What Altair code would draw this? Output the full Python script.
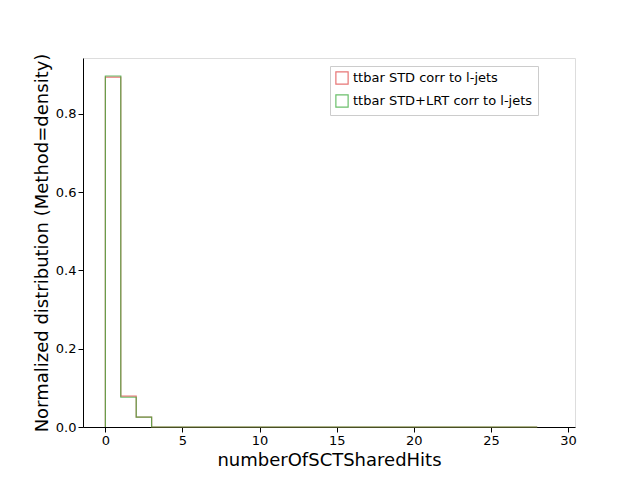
import altair as alt
import pandas as pd

bins = list(range(30))
std = [0.894, 0.079, 0.025] + [0.0] * 26
lrt = [0.897, 0.076, 0.025] + [0.0] * 26
names = ["ttbar STD corr to l-jets", "ttbar STD+LRT corr to l-jets"]

rows = []
for name, vals in zip(names, [std, lrt]):
    xs = [0] + bins[:-1] + [29]
    ys = [0.0] + vals[:-1] + [0.0]
    for i, (x, y) in enumerate(zip(xs, ys)):
        rows.append({"x": x, "y": y, "series": name, "o": i})
df = pd.DataFrame(rows)

ax = dict(grid=False, titleFontSize=18, titleFontWeight="normal", labelFontSize=13, tickColor="black",
          domainColor="black", labelColor="black", titleColor="black", labelFlush=False)

chart = alt.Chart(df).mark_line(interpolate="step-after", strokeWidth=1.2, opacity=0.75).encode(
    x=alt.X("x:Q", scale=alt.Scale(domain=[-1.45, 30.45], nice=False, zero=False),
            axis=alt.Axis(values=[0, 5, 10, 15, 20, 25, 30], title="numberOfSCTSharedHits", **ax)),
    y=alt.Y("y:Q", scale=alt.Scale(domain=[0, 0.943], nice=False),
            axis=alt.Axis(values=[0, 0.2, 0.4, 0.6, 0.8], format=".1f",
                          title="Normalized distribution (Method=density)", **ax)),
    color=alt.Color("series:N", scale=alt.Scale(domain=names, range=["#e04848", "#3aaa3a"]),
                    legend=alt.Legend(title=None, orient="none", legendX=247, legendY=8,
                                      symbolType="square", symbolFillColor="white", symbolSize=150,
                                      symbolStrokeWidth=1.2, labelFontSize=13, labelColor="black",
                                      labelLimit=0, fillColor="white", strokeColor="#cccccc",
                                      padding=5, rowPadding=5)),
    order="o:Q",
).properties(width=492, height=369, autosize=alt.AutoSizeParams(type="none"),
             padding={"left": 75, "top": 50, "right": 57, "bottom": 45}
).configure_view(stroke="black", strokeWidth=1).configure(font="DejaVu Sans")

chart.save("out.html", embed_options={"renderer": "svg", "actions": False})
